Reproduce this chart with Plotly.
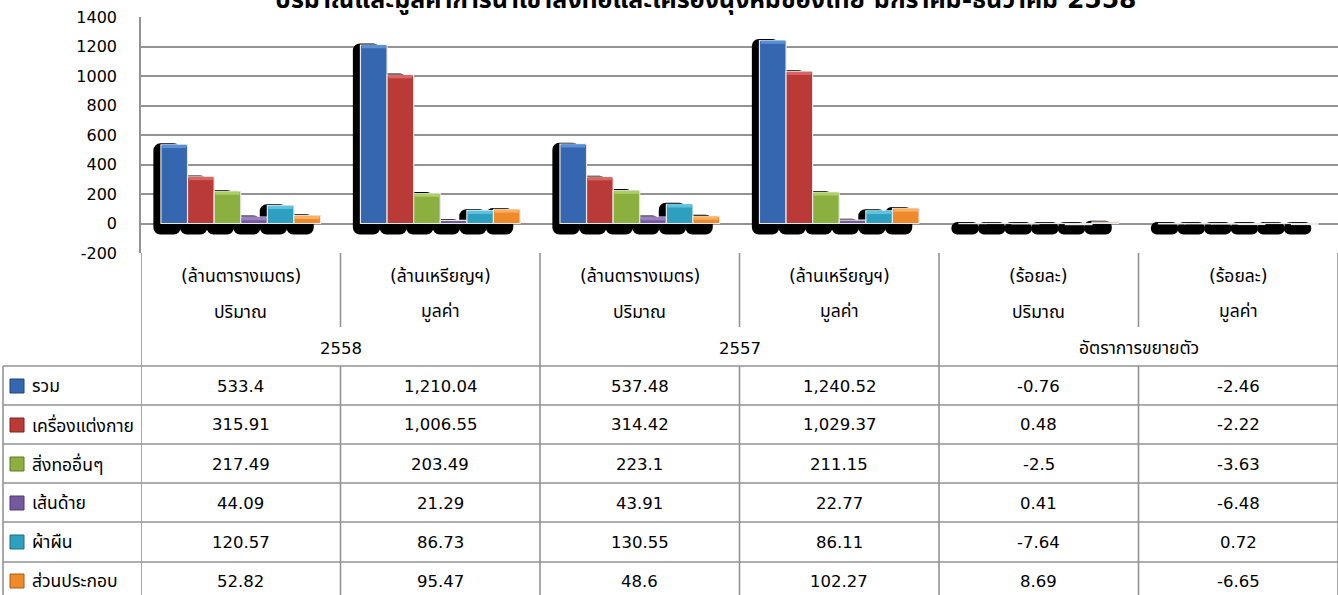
import plotly.graph_objects as go

# ---------------- data ----------------
units = ["(ล้านตารางเมตร)", "(ล้านเหรียญฯ)", "(ล้านตารางเมตร)", "(ล้านเหรียญฯ)", "(ร้อยละ)", "(ร้อยละ)"]
measures = ["ปริมาณ", "มูลค่า", "ปริมาณ", "มูลค่า", "ปริมาณ", "มูลค่า"]
groups = ["2558", "2557", "อัตราการขยายตัว"]
y_ticks = [-200, 0, 200, 400, 600, 800, 1000, 1200, 1400]

series_names = ["รวม", "เครื่องแต่งกาย", "สิ่งทออื่นๆ", "เส้นด้าย", "ผ้าผืน", "ส่วนประกอบ"]
total = [533.4, 1210.04, 537.48, 1240.52, -0.76, -2.46]
apparel = [315.91, 1006.55, 314.42, 1029.37, 0.48, -2.22]
other_textiles = [217.49, 203.49, 223.1, 211.15, -2.5, -3.63]
yarn = [44.09, 21.29, 43.91, 22.77, 0.41, -6.48]
fabric = [120.57, 86.73, 130.55, 86.11, -7.64, 0.72]
components = [52.82, 95.47, 48.6, 102.27, 8.69, -6.65]
series_values = [total, apparel, other_textiles, yarn, fabric, components]

title_text = "ปริมาณและมูลค่าการนำเข้าสิ่งทอและเครื่องนุ่งห่มของไทย มกราคม-ธันวาคม 2558"

# ---------------- style ----------------
colors = ["#3566B0", "#B93A37", "#8CB03F", "#7458A0", "#2E9FBE", "#EE8A2C"]
caps = ["#5B8FD6", "#DB6562", "#AECF68", "#9A7FC4", "#5CC3E0", "#FAB062"]
edge_colors = ["#1F4477", "#7D2524", "#5E7A27", "#4E3A6E", "#1F6E84", "#A85D17"]
FONT = "Tahoma, 'DejaVu Sans', 'Noto Sans Thai', sans-serif"
GRID = "#939393"
NUM_FS = 16.5   # numbers in the table
THAI_FS = 17.5  # thai labels in the table

W, H = 1338, 595
L, T = 141, 17
PLOT_BOTTOM = 253
PLOT_H = PLOT_BOTTOM - T
PLOT_W = W - L


def xp(px):
    return (px - L) / PLOT_W


def yp(py):
    return (PLOT_BOTTOM - py) / PLOT_H


n_cat = len(units)
x_idx = list(range(n_cat))
n_ser = len(series_values)
group_w = 0.8
bw = group_w / n_ser

fig = go.Figure()

# shadows
for j, vals in enumerate(series_values):
    fig.add_trace(go.Bar(
        x=x_idx,
        y=[max(v, 0) + 85 for v in vals],
        base=-75,
        offset=-group_w / 2 + j * bw - 0.038,
        width=bw + 0.004,
        marker=dict(color="black", line=dict(width=0), cornerradius=7),
        showlegend=False, hoverinfo="skip",
    ))

# bars
for j, vals in enumerate(series_values):
    fig.add_trace(go.Bar(
        x=x_idx, y=vals, name=series_names[j],
        offset=-group_w / 2 + j * bw,
        width=bw,
        marker=dict(color=colors[j], line=dict(color="#E8E8E8", width=1.2)),
        showlegend=False,
    ))

# bevel highlight on bar tops
CAP = 22
for j, vals in enumerate(series_values):
    fig.add_trace(go.Bar(
        x=x_idx, y=[CAP if v > CAP * 1.5 else 0 for v in vals],
        base=[v - CAP for v in vals],
        offset=-group_w / 2 + j * bw + 0.006,
        width=bw - 0.012,
        marker=dict(color=caps[j], line=dict(width=0)),
        showlegend=False, hoverinfo="skip",
    ))

shapes = []
annotations = []

line_style = dict(color=GRID, width=1.6)

# horizontal table lines
row_tops = [366, 405, 444, 483, 522, 562]
for yy in row_tops:
    shapes.append(dict(type="line", xref="paper", yref="paper",
                       x0=xp(3), x1=xp(W), y0=yp(yy), y1=yp(yy), line=line_style))

# vertical table lines
shapes.append(dict(type="line", xref="paper", yref="paper",
                   x0=xp(3), x1=xp(3), y0=yp(366), y1=yp(H + 10), line=line_style))
for i in range(n_cat + 1):
    xb = i - 0.5
    if i % 2 == 0:
        shapes.append(dict(type="line", xref="x", yref="paper",
                           x0=xb, x1=xb, y0=yp(PLOT_BOTTOM), y1=yp(H + 10), line=line_style))
    else:
        shapes.append(dict(type="line", xref="x", yref="paper",
                           x0=xb, x1=xb, y0=yp(PLOT_BOTTOM), y1=yp(327), line=line_style))
        shapes.append(dict(type="line", xref="x", yref="paper",
                           x0=xb, x1=xb, y0=yp(366), y1=yp(H + 10), line=line_style))


def txt(x, y, s, xref="x", xanchor="center", size=THAI_FS):
    return dict(x=x, y=y, xref=xref, yref="paper", text=s, xanchor=xanchor, yanchor="middle",
                showarrow=False, font=dict(size=size, color="black", family=FONT))


# header text
for i in range(n_cat):
    annotations.append(txt(i, yp(276), units[i]))
    annotations.append(txt(i, yp(312), measures[i]))
for g, name in enumerate(groups):
    annotations.append(txt(2 * g + 0.5, yp(348), name, size=NUM_FS if name.isdigit() else THAI_FS))

# data rows
row_centers = [386, 425, 464, 503, 542, 581]
for j, vals in enumerate(series_values):
    yc = row_centers[j]
    shapes.append(dict(type="rect", xref="paper", yref="paper",
                       x0=xp(10), x1=xp(24), y0=yp(yc - 7), y1=yp(yc + 7),
                       fillcolor=colors[j], line=dict(color=edge_colors[j], width=1)))
    annotations.append(txt(xp(30), yp(yc), series_names[j], xref="paper", xanchor="left"))
    for i, v in enumerate(vals):
        annotations.append(txt(i, yp(yc), f"{v:,}", size=NUM_FS))

# title (partially above the page, as in the reference)
annotations.append(dict(x=xp(706), y=yp(-2), xref="paper", yref="paper", text="<b>" + title_text + "</b>",
                        showarrow=False, yanchor="middle",
                        font=dict(size=25, color="black", family=FONT)))

fig.update_layout(
    width=W, height=H,
    margin=dict(l=L, r=0, t=T, b=H - PLOT_BOTTOM, pad=0),
    paper_bgcolor="white", plot_bgcolor="white",
    barmode="overlay",
    xaxis=dict(range=[-0.5, n_cat - 0.5], showticklabels=False, showgrid=False,
               zeroline=False, ticks="", fixedrange=True),
    yaxis=dict(range=[y_ticks[0], y_ticks[-1]], tickvals=y_ticks, ticktext=[str(v) for v in y_ticks],
               showgrid=True, gridcolor=GRID, gridwidth=1.6,
               zeroline=True, zerolinecolor=GRID, zerolinewidth=1.6,
               showline=True, linecolor=GRID, linewidth=1.6,
               ticks="", ticklabelstandoff=19,
               tickfont=dict(size=16, color="black", family=FONT)),
    shapes=shapes, annotations=annotations,
    showlegend=False,
)

fig.write_html("out.html", config={"displayModeBar": False},
               post_script="document.body.style.margin='0';document.body.style.overflow='hidden';")
